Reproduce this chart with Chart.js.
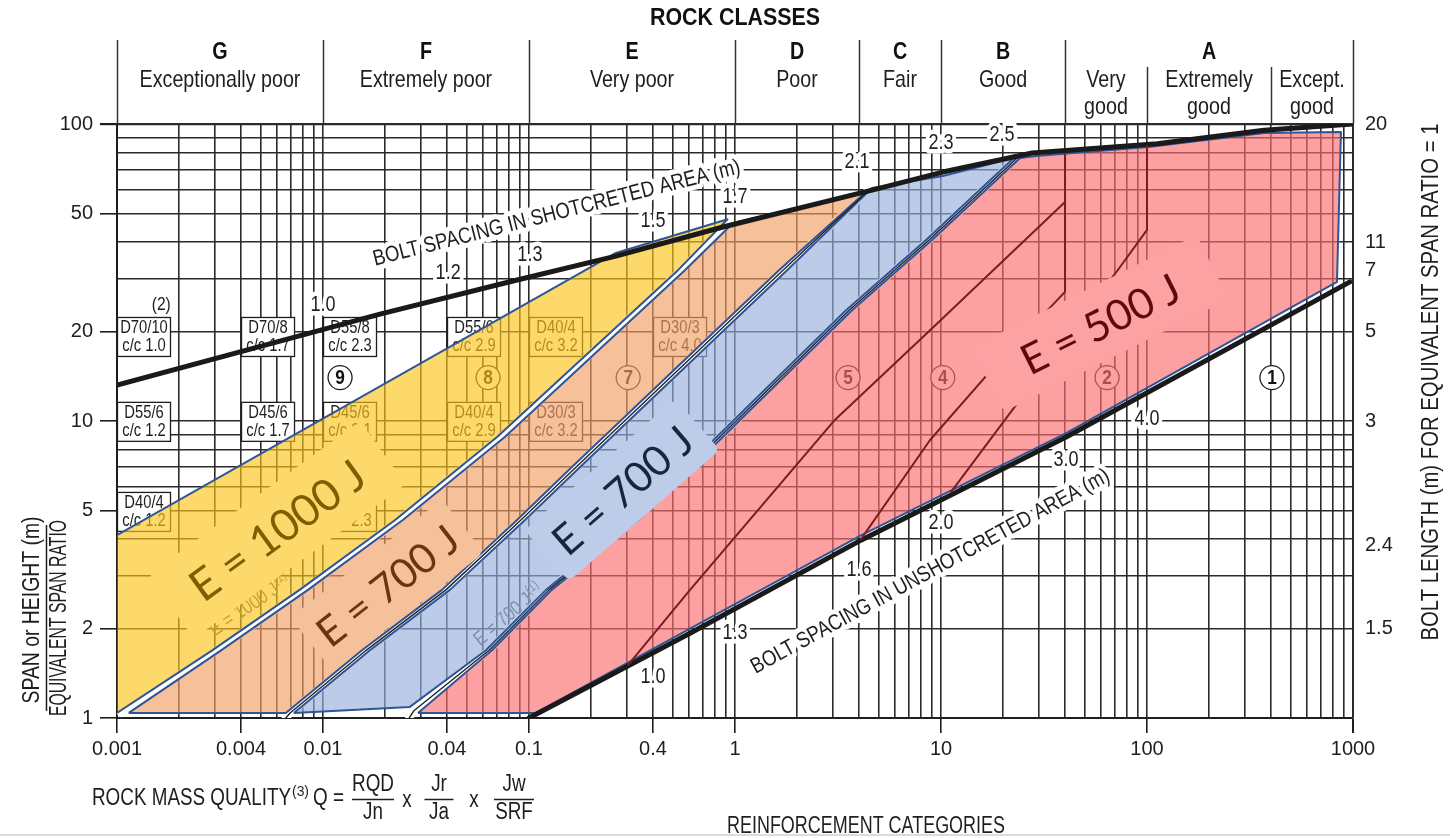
<!DOCTYPE html>
<html>
<head>
<meta charset="utf-8">
<title>Rock classes and reinforcement categories</title>
<script src="https://cdn.jsdelivr.net/npm/chart.js@4.4.1/dist/chart.umd.min.js"></script>
<style>
  html, body { margin: 0; padding: 0; background: #fff; }
  canvas { display: block; }
</style>
</head>
<body>
<canvas id="qchart" width="1450" height="838"></canvas>
<script>
// ---------- axes ----------
const qTickValues = [0.001, 0.004, 0.01, 0.04, 0.1, 0.4, 1, 10, 100, 1000];
const qTickLabels = ['0.001', '0.004', '0.01', '0.04', '0.1', '0.4', '1', '10', '100', '1000'];
const spanTickValues = [1, 2, 5, 10, 20, 50, 100];
const spanTickLabels = ['1', '2', '5', '10', '20', '50', '100'];
const boltSpanValues = [100, 40, 32, 20, 10, 3.8, 2];
const boltLengthLabels = ['20', '11', '7', '5', '3', '2.4', '1.5'];

// ---------- rock classes ----------
const classBounds = [0.001, 0.01, 0.1, 1, 4, 10, 40, 1000];
const classLetters = ['G', 'F', 'E', 'D', 'C', 'B', 'A'];
const classNames = ['Exceptionally poor', 'Extremely poor', 'Very poor', 'Poor', 'Fair', 'Good', ''];
const subClassBounds = [40, 100, 400, 1000];
const subClassNames = [['Very', 'good'], ['Extremely', 'good'], ['Except.', 'good']];

// ---------- bolt spacing boundaries [Q, span] ----------
const shotcreteLine = [[0.001, 13.2], [0.0189, 22.9], [0.0836, 29.6], [0.264, 35.9], [0.874, 45.0],
  [4.68, 60.0], [10.2, 68.9], [27.7, 79.9], [112, 85.8], [370, 95.3], [1000, 100]];
const unshotcreteLine = [[0.1, 1.0], [0.605, 1.93], [4.09, 3.97], [40.5, 8.83], [966, 29.4]];

const shotcreteSpacing = ['1.0', '1.2', '1.3', '1.5', '1.7', '2.1', '2.3', '2.5'];
const shotcreteSpacingQ = [0.01, 0.0405, 0.101, 0.40, 1.0, 3.91, 10, 19.8];
const shotcreteSpacingSpan = [24.6, 31.5, 36.2, 47.1, 56.8, 74.5, 86.3, 91.8];
const openSpacing = ['1.0', '1.3', '1.6', '2.0', '3.0', '4.0'];
const openSpacingQ = [0.4, 1.0, 4.0, 10, 40.4, 100];
const openSpacingSpan = [1.37, 1.93, 3.15, 4.54, 7.39, 10.2];

// ---------- energy absorption zones [Q, span] ----------
const zone1000J = [[0.001, 1.04], [0.001, 4.13], [0.264, 36.8], [0.92, 47.8], [0.529, 32.2], [0.070, 8.84],
  [0.0224, 4.64], [0.0077, 2.70], [0.0029, 1.69], [0.001, 1.04]];
const zone700Jsprayed = [[0.00114, 1.04], [0.0032, 1.69], [0.00845, 2.70], [0.0244, 4.64], [0.0763, 8.84],
  [0.571, 32.2], [0.978, 46.4], [4.32, 59.0], [1.635, 32.2], [0.156, 6.84], [0.0875, 4.64], [0.0378, 2.70],
  [0.01546, 1.69], [0.0066, 1.04], [0.00114, 1.04]];
const zone700J = [[0.00722, 1.04], [0.0169, 1.69], [0.0413, 2.70], [0.0956, 4.64], [0.171, 6.84], [1.79, 32.2],
  [4.62, 60.9], [10.2, 66.8], [22.6, 76.8], [8.46, 40.7], [3.46, 23.6], [0.316, 4.64], [0.121, 2.70],
  [0.0618, 1.69], [0.0264, 1.09], [0.00722, 1.04]];
const zone500J = [[0.0289, 1.04], [0.108, 1.04], [0.605, 2.0], [4.09, 4.12], [40.5, 9.1], [836, 29.4],
  [874, 94.0], [370, 93.3], [101, 83.7], [28.9, 78.0], [24.2, 76.8], [9.04, 40.7], [3.70, 23.6],
  [0.338, 4.64], [0.129, 2.70], [0.0661, 1.69], [0.0289, 1.04]];

// gaps between neighbouring zones
const gap1000to700 = [[0.001046, 1.04], [0.00306, 1.69], [0.00809, 2.70], [0.0234, 4.64], [0.0731, 8.84],
  [0.547, 32.2], [0.946, 47.1]];
const gap700to700 = [[0.0066, 1.0], [0.00692, 1.04], [0.0162, 1.69], [0.0395, 2.70], [0.0914, 4.64],
  [0.1636, 6.84], [1.71, 32.2], [4.52, 60.4]];
const gap700to500 = [[0.0262, 1.0], [0.0277, 1.06], [0.064, 1.69], [0.125, 2.70], [0.327, 4.64],
  [3.58, 23.6], [8.75, 40.7], [23.4, 76.8]];

// reinforcement category boundaries inside the 500 J zone
const category5to4 = [[0.303, 1.51], [0.605, 2.70], [3.06, 10.1], [8.85, 20.2], [40, 54.6]];
const category4to3 = [[4.09, 4.0], [8.85, 8.63], [19.3, 16.0], [40, 27.2], [40, 79]];
const category3to2 = [[11.2, 5.77], [24.2, 11.8], [74, 33.0], [100, 44.0], [100, 84.3]];

const categoryIds = ['9', '8', '7', '5', '4', '3', '2', '1'];
const categoryQ = [0.0121, 0.0633, 0.303, 3.54, 10.2, 20.4, 64, 404];
const categorySpan = 14;

// bolt diameter / length and spacing notes
const boxQ = [0.001, 0.004, 0.01, 0.04, 0.1, 0.4, 0.001, 0.004, 0.01, 0.04, 0.1, 0.001, 0.01];
const boxTopSpan = [22.4, 22.4, 22.4, 22.4, 22.4, 22.4, 11.6, 11.6, 11.6, 11.6, 11.6, 5.77, 5.77];
const boxBolt = ['D70/10', 'D70/8', 'D55/8', 'D55/6', 'D40/4', 'D30/3', 'D55/6', 'D45/6', 'D45/6', 'D40/4', 'D30/3', 'D40/4', 'D45/5'];
const boxSpacing = ['c/c 1.0', 'c/c 1.7', 'c/c 2.3', 'c/c 2.9', 'c/c 3.2', 'c/c 4.0', 'c/c 1.2', 'c/c 1.7', 'c/c 2.1', 'c/c 2.9', 'c/c 3.2', 'c/c 1.2', 'c/c 2.3'];

// energy labels
const energyText = ['E = 1000 J', 'E = 700 J', 'E = 700 J', 'E = 500 J'];
const energyQ = [0.00598, 0.0205, 0.283, 59.1];
const energySpan = [4.3, 2.80, 5.86, 21.3];

// ---------- styling ----------
// Condensed lettering: Arial-metric sans squeezed horizontally
const SANS = "'Liberation Sans',Arial,'Helvetica',sans-serif";
const SQUEEZE = 0.82;
const ROUND = "Lato,'Open Sans','Noto Sans',sans-serif";
const INK = '#1e1e1e';
const TICK_SIZE = 20;

const energyStyle = [
  { angle: -36, width: 205, color: '#7d5e00', patch: 'rgb(253,216,106)', pw: 262, ph: 78 },
  { angle: -38, width: 168, color: '#6b3513', patch: 'rgb(245,193,155)', pw: 192, ph: 68 },
  { angle: -41, width: 171, color: '#17263f', patch: 'rgb(189,205,233)', pw: 200, ph: 68 },
  { angle: -26.6, width: 172, color: '#5c0a0a', patch: 'rgb(252,162,163)', pw: 252, ph: 72 }
];

function logGrid(minExp, maxExp) {
  const v = [];
  for (let e = minExp; e < maxExp; e++) {
    for (let m = 1; m < 10; m++) v.push(+(m * Math.pow(10, e)).toPrecision(6));
  }
  v.push(Math.pow(10, maxExp));
  return v;
}
const qGrid = logGrid(-3, 3);
const spanGrid = logGrid(0, 2);
const findTick = (v, list) => list.findIndex(t => Math.abs(Math.log10(v / t)) < 1e-6);

const toPoints = arr => arr.map(([q, s]) => ({ x: q, y: s }));
const lineSet = (arr, color, width, order) => ({
  data: toPoints(arr), showLine: true, fill: false, borderColor: color, borderWidth: width,
  pointRadius: 0, tension: 0, order, borderJoinStyle: 'round', borderCapStyle: 'round'
});
const zoneSet = (arr, color) => ({
  data: toPoints(arr), showLine: true, fill: 'shape', backgroundColor: color,
  borderColor: '#2f5597', borderWidth: 2, pointRadius: 0, tension: 0, order: 8, borderJoinStyle: 'round'
});

const datasets = [
  lineSet(gap1000to700, '#ffffff', 8, 9),
  lineSet(gap700to700, '#ffffff', 8, 9),
  lineSet(gap700to500, '#ffffff', 8, 9),
  zoneSet(zone1000J, 'rgba(252,195,26,0.65)'),
  zoneSet(zone700Jsprayed, 'rgba(240,158,100,0.65)'),
  zoneSet(zone700J, 'rgba(152,177,220,0.65)'),
  zoneSet(zone500J, 'rgba(250,109,112,0.65)'),
  lineSet(gap700to700, '#222222', 1.4, 7),
  lineSet(gap700to500, '#222222', 1.4, 7),
  lineSet(shotcreteLine, '#1a1a1a', 5, 6),
  lineSet(unshotcreteLine, '#1a1a1a', 5, 6),
  lineSet(category5to4, '#7b1d1d', 2, 5),
  lineSet(category4to3, '#7b1d1d', 2, 5),
  lineSet(category3to2, '#7b1d1d', 2, 5)
];

// ---------- text helpers ----------
function text(ctx, str, x, y, o = {}) {
  const size = o.size || 23;
  ctx.save();
  ctx.translate(x, y);
  if (o.angle) ctx.rotate(o.angle * Math.PI / 180);
  ctx.font = `${o.weight || 'normal'} ${size}px ${o.family || SANS}`;
  let sx = o.family ? 1 : SQUEEZE;
  if (o.width) sx = o.width / ctx.measureText(str).width;
  ctx.scale(sx, 1);
  ctx.textAlign = o.align || 'center';
  ctx.textBaseline = o.baseline || 'middle';
  if (o.halo) {
    ctx.lineWidth = o.halo; ctx.strokeStyle = '#fff'; ctx.lineJoin = 'round';
    ctx.strokeText(str, 0, 0);
  }
  ctx.fillStyle = o.color || INK;
  ctx.fillText(str, 0, 0);
  const w = ctx.measureText(str).width * sx;
  ctx.restore();
  return w;
}
function textWithSup(ctx, str, sup, x, y, o = {}) {
  // main text left aligned at (x, y), superscript right after it
  ctx.save();
  ctx.translate(x, y);
  if (o.angle) ctx.rotate(o.angle * Math.PI / 180);
  const w = text(ctx, str, 0, 0, Object.assign({}, o, { angle: 0, align: 'left' }));
  text(ctx, sup, w + 1, -(o.size || 23) * 0.32,
    Object.assign({}, o, { angle: 0, align: 'left', size: (o.size || 23) * 0.66, width: o.supWidth }));
  ctx.restore();
}
function roundRect(ctx, x, y, w, h, r) {
  ctx.beginPath();
  ctx.moveTo(x + r, y);
  ctx.lineTo(x + w - r, y); ctx.quadraticCurveTo(x + w, y, x + w, y + r);
  ctx.lineTo(x + w, y + h - r); ctx.quadraticCurveTo(x + w, y + h, x + w - r, y + h);
  ctx.lineTo(x + r, y + h); ctx.quadraticCurveTo(x, y + h, x, y + h - r);
  ctx.lineTo(x, y + r); ctx.quadraticCurveTo(x, y, x + r, y);
  ctx.closePath();
}

// ---------- plugins ----------
const underlay = {
  id: 'underlay',
  beforeDatasetsDraw(chart) {
    const { ctx, scales: { x, y } } = chart;
    // support notes
    boxQ.forEach((q, i) => {
      const bx = x.getPixelForValue(q), by = y.getPixelForValue(boxTopSpan[i]);
      ctx.save();
      ctx.fillStyle = '#fff'; ctx.strokeStyle = INK; ctx.lineWidth = 1.3;
      ctx.fillRect(bx, by, 54, 40); ctx.strokeRect(bx + 0.5, by + 0.5, 53, 39);
      ctx.restore();
      text(ctx, boxBolt[i], bx + 27, by + 11, { size: 18 });
      text(ctx, boxSpacing[i], bx + 27, by + 29, { size: 18 });
    });
    text(ctx, '(2)', x.getPixelForValue(0.00164), y.getPixelForValue(24.6), { size: 19 });
    // reinforcement category markers
    categoryIds.forEach((id, i) => {
      const cx = x.getPixelForValue(categoryQ[i]), cy = y.getPixelForValue(categorySpan);
      ctx.save();
      ctx.beginPath(); ctx.arc(cx, cy, 12, 0, Math.PI * 2);
      ctx.fillStyle = '#fff'; ctx.fill();
      ctx.lineWidth = 1.3; ctx.strokeStyle = INK; ctx.stroke();
      ctx.restore();
      text(ctx, id, cx, cy + 1, { size: 21, weight: 'bold', color: '#111' });
    });
    // energy notes along the zone edges
    textWithSup(ctx, 'E = 1000 J', '(1)', x.getPixelForValue(0.00288), y.getPixelForValue(1.95),
      { size: 20, angle: -34, color: '#666' });
    textWithSup(ctx, 'E = 700 J', '(1)', x.getPixelForValue(0.0558), y.getPixelForValue(1.80),
      { size: 20, angle: -40, color: '#555' });
  }
};

const overlay = {
  id: 'overlay',
  afterDatasetsDraw(chart) {
    const { ctx, scales: { x, y } } = chart;
    shotcreteSpacing.forEach((s, i) => {
      text(ctx, s, x.getPixelForValue(shotcreteSpacingQ[i]), y.getPixelForValue(shotcreteSpacingSpan[i]),
        { size: 22, halo: 9 });
    });
    openSpacing.forEach((s, i) => {
      text(ctx, s, x.getPixelForValue(openSpacingQ[i]), y.getPixelForValue(openSpacingSpan[i]),
        { size: 22, halo: 9 });
    });
    text(ctx, 'BOLT SPACING IN SHOTCRETED AREA (m)', x.getPixelForValue(0.1365), y.getPixelForValue(50.0),
      { size: 22, angle: -14.2, width: 378, halo: 10 });
    text(ctx, 'BOLT SPACING IN UNSHOTCRETED AREA (m)', x.getPixelForValue(8.89), y.getPixelForValue(3.11),
      { size: 22, angle: -28.6, width: 405, halo: 10 });
    // energy absorption labels on their own patches
    energyText.forEach((t, i) => {
      const st = energyStyle[i];
      const cx = x.getPixelForValue(energyQ[i]), cy = y.getPixelForValue(energySpan[i]);
      ctx.save();
      ctx.translate(cx, cy);
      ctx.rotate(st.angle * Math.PI / 180);
      ctx.fillStyle = st.patch;
      roundRect(ctx, -st.pw / 2, -st.ph / 2, st.pw, st.ph, 8);
      ctx.fill();
      ctx.font = `44px ${ROUND}`;
      const size = 44 * st.width / ctx.measureText(t).width;
      ctx.font = `${size}px ${ROUND}`;
      ctx.fillStyle = st.color; ctx.textAlign = 'center'; ctx.textBaseline = 'middle';
      ctx.fillText(t, 0, 2);
      ctx.restore();
    });
  }
};

const frame = {
  id: 'frame',
  afterDraw(chart) {
    const { ctx, chartArea: a, scales: { x } } = chart;
    const top = a.top;
    // header: rock classes
    text(ctx, 'ROCK CLASSES', (a.left + a.right) / 2, 19, { size: 23, weight: 'bold', width: 170, color: '#111' });
    ctx.save();
    ctx.strokeStyle = '#333'; ctx.lineWidth = 1.5;
    classBounds.forEach(b => {
      const px = Math.round(x.getPixelForValue(b)) + 0.5;
      ctx.beginPath(); ctx.moveTo(px, 40); ctx.lineTo(px, top); ctx.stroke();
    });
    subClassBounds.slice(1, -1).forEach(b => {
      const px = Math.round(x.getPixelForValue(b)) + 0.5;
      ctx.beginPath(); ctx.moveTo(px, 67); ctx.lineTo(px, top); ctx.stroke();
    });
    ctx.restore();
    classLetters.forEach((l, i) => {
      const cx = (x.getPixelForValue(classBounds[i]) + x.getPixelForValue(classBounds[i + 1])) / 2;
      text(ctx, l, cx, 52, { size: 24, weight: 'bold', color: '#111' });
      if (classNames[i]) text(ctx, classNames[i], cx, 80, { size: 24 });
    });
    subClassNames.forEach((n, i) => {
      const cx = (x.getPixelForValue(subClassBounds[i]) + x.getPixelForValue(subClassBounds[i + 1])) / 2;
      text(ctx, n[0], cx, 80, { size: 24 });
      text(ctx, n[1], cx, 107, { size: 24 });
    });

    // Q definition under the axis
    textWithSup(ctx, 'ROCK MASS QUALITY', '(3)', 92, 799, { size: 23, width: 199, supWidth: 17 });
    text(ctx, 'Q =', 313, 799, { size: 23, align: 'left', width: 31 });
    const fractions = [['RQD', 'Jn', 373, 42], ['Jr', 'Ja', 439, 29], ['Jw', 'SRF', 514, 40]];
    fractions.forEach(([n, d, cx, w]) => {
      text(ctx, n, cx, 785, { size: 23 });
      text(ctx, d, cx, 813, { size: 23 });
      ctx.save(); ctx.strokeStyle = INK; ctx.lineWidth = 1.5;
      ctx.beginPath(); ctx.moveTo(cx - w / 2, 799.5); ctx.lineTo(cx + w / 2, 799.5); ctx.stroke();
      ctx.restore();
    });
    text(ctx, 'x', 407, 801, { size: 23 });
    text(ctx, 'x', 474, 801, { size: 23 });
    text(ctx, 'REINFORCEMENT CATEGORIES', 866, 827, { size: 23, width: 278 });

    // left axis title as a fraction
    text(ctx, 'SPAN or HEIGHT (m)', 33, 610, { size: 23, angle: -90, width: 187 });
    ctx.save(); ctx.strokeStyle = INK; ctx.lineWidth = 1.5;
    ctx.beginPath(); ctx.moveTo(46.5, 525); ctx.lineTo(46.5, 711); ctx.stroke();
    ctx.restore();
    text(ctx, 'EQUIVALENT SPAN RATIO', 60, 618, { size: 23, angle: -90, width: 196 });
    // right axis title
    text(ctx, 'BOLT LENGTH (m) FOR EQUIVALENT SPAN RATIO = 1', 1432, 382, { size: 23, angle: -90, width: 517 });

    // page edge
    ctx.save(); ctx.strokeStyle = '#dcdcdc'; ctx.lineWidth = 2;
    ctx.beginPath(); ctx.moveTo(0, 835); ctx.lineTo(1450, 835); ctx.stroke();
    ctx.restore();
  }
};

// ---------- chart ----------
const gridColor = '#2a2a2a';
new Chart(document.getElementById('qchart'), {
  type: 'scatter',
  data: { datasets },
  options: {
    responsive: false,
    animation: false,
    events: [],
    layout: { padding: { top: 124, left: 0, right: 0, bottom: 0 } },
    plugins: { legend: { display: false }, tooltip: { enabled: false } },
    scales: {
      x: {
        type: 'logarithmic', min: 0.001, max: 1000,
        afterBuildTicks: s => { s.ticks = qGrid.map(v => ({ value: v })); },
        afterFit: s => { s.height = 120; },
        ticks: {
          autoSkip: false, maxRotation: 0, minRotation: 0, padding: 4, color: INK,
          font: { family: SANS, size: TICK_SIZE },
          callback: v => { const i = findTick(v, qTickValues); return i < 0 ? '' : qTickLabels[i]; }
        },
        grid: {
          color: gridColor,
          lineWidth: c => (c.tick && (c.tick.value === 1000)) ? 2 : 1.6,
          tickLength: 15,
          tickColor: c => (c.tick && findTick(c.tick.value, qTickValues) >= 0) ? INK : 'rgba(0,0,0,0)'
        },
        border: { color: INK, width: 2 }
      },
      y: {
        type: 'logarithmic', position: 'left', min: 1, max: 100,
        afterBuildTicks: s => { s.ticks = spanGrid.map(v => ({ value: v })); },
        afterFit: s => { s.width = 117; },
        ticks: {
          autoSkip: false, padding: 7, color: INK,
          font: { family: SANS, size: TICK_SIZE },
          callback: v => { const i = findTick(v, spanTickValues); return i < 0 ? '' : spanTickLabels[i]; }
        },
        grid: {
          color: gridColor,
          lineWidth: c => (c.tick && c.tick.value === 100) ? 2.2 : 1.6,
          tickLength: 17,
          tickColor: c => (c.tick && findTick(c.tick.value, spanTickValues) >= 0) ? INK : 'rgba(0,0,0,0)'
        },
        border: { color: INK, width: 2 }
      },
      y2: {
        type: 'logarithmic', position: 'right', min: 1, max: 100,
        afterBuildTicks: s => { s.ticks = boltSpanValues.map(v => ({ value: v })); },
        afterFit: s => { s.width = 97; },
        ticks: {
          autoSkip: false, padding: 12, color: INK,
          font: { family: SANS, size: TICK_SIZE },
          callback: (v, i) => boltLengthLabels[i]
        },
        grid: { display: false, drawTicks: false },
        border: { display: false }
      }
    }
  },
  plugins: [underlay, overlay, frame]
});
</script>
</body>
</html>
